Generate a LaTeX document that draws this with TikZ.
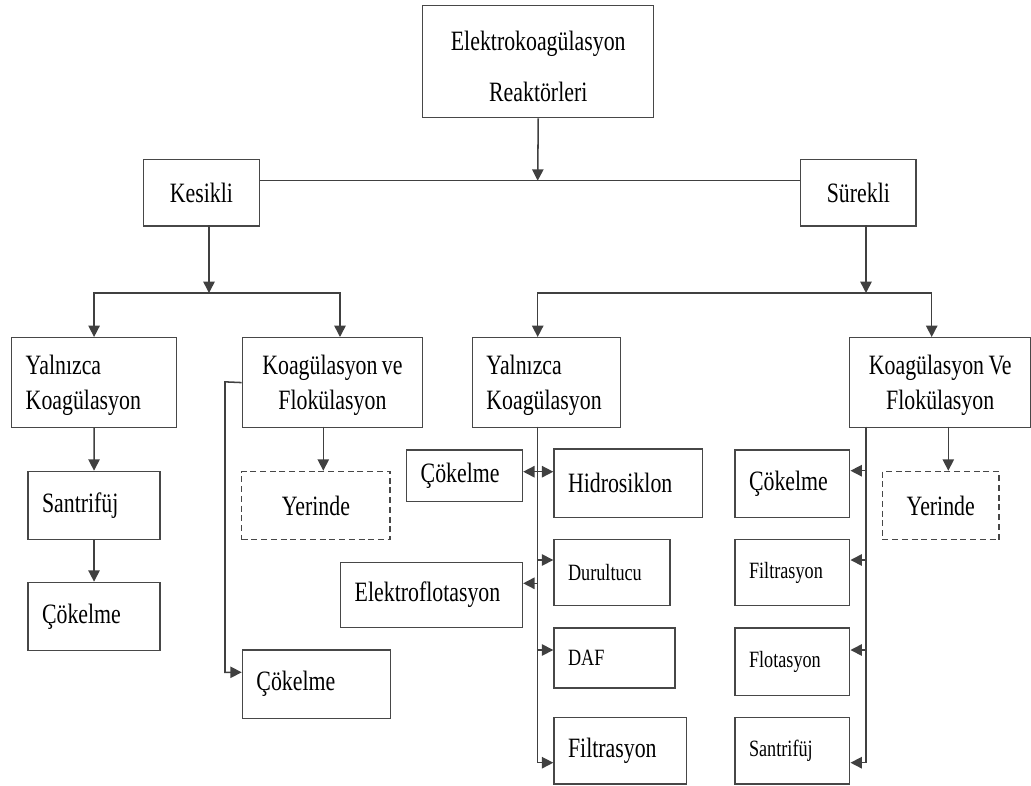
\documentclass[tikz,border=0pt]{standalone}
\usepackage{fontspec}
\setmainfont{Liberation Serif}[FakeStretch=0.78, WordSpace=0.8]
\usetikzlibrary{arrows.meta,calc}
\newcommand\fbig{\fontsize{21}{26.3}\selectfont}
\newcommand\fsmall{\fontsize{17.5}{21}\selectfont}
\newcommand\ftop{\fontsize{21}{38}\selectfont}
\newcommand\tlr{\rule{0pt}{18pt}}
\tikzset{
  box/.style={draw=black!72, line width=1.1pt, anchor=north west, inner xsep=10.5pt, inner ysep=0pt, font=\fbig, text=black},
  dbox/.style={dash pattern=on 4.5pt off 2.8pt},
  ln/.style={draw=black!75, line width=1.15pt},
  arr/.style={ln, -{Triangle[length=8.5pt,width=8.5pt]}},
}
\newcommand\bx[7]{%
  \pgfmathsetmacro\bxw{(#4-#2)*0.75}%
  \pgfmathsetmacro\bxh{(#5-#3)*0.75}%
  \pgfmathsetmacro\bxt{(#4-#2-28)*0.75}%
  \node[box, minimum width=\bxw pt, minimum height=\bxh pt, text width=\bxt pt, #6] (#1) at (#2,#3) {#7};}
\begin{document}
\begin{tikzpicture}[x=0.75pt, y=-0.75pt]
\useasboundingbox (0,0) rectangle (1031,785);
% boxes
\bx{top}{422}{5}{653}{117}{align=flush center, font=\ftop}{\rule{0pt}{22pt}Elektrokoagülasyon\\Reaktörleri}
\bx{kes}{142.7}{158.7}{258.7}{225.3}{align=flush center}{Kesikli}
\bx{sur}{800}{158.7}{915.3}{225.3}{align=flush center}{Sürekli}
\bx{yk1}{11}{337}{175.7}{426.7}{align=flush left}{\tlr Yalnızca\\Koagülasyon}
\bx{kf1}{241.7}{337}{421.7}{426.7}{align=flush center}{\tlr Koagülasyon ve\\Flokülasyon}
\bx{yk2}{471.7}{337}{620}{426.7}{align=flush left}{\tlr Yalnızca\\Koagülasyon}
\bx{kf2}{849}{337}{1030}{426.7}{align=flush center}{\tlr Koagülasyon Ve\\Flokülasyon}
\bx{san1}{27.3}{470.7}{159.3}{539}{align=flush left}{Santrifüj}
\bx{cok1}{27.3}{581.7}{159.3}{650}{align=flush left}{Çökelme}
\bx{yer1}{241}{470.7}{389.3}{539}{align=flush center, dbox}{Yerinde}
\bx{cok2}{241.7}{649.3}{390}{717.7}{align=flush left}{Çökelme}
\bx{cok3}{406}{449.3}{521.7}{501}{align=flush left}{Çökelme}
\bx{ele}{340}{561.7}{521.7}{626.7}{align=flush left}{Elektroflotasyon}
\bx{hid}{553.3}{448.3}{701.7}{516.7}{align=flush left}{Hidrosiklon}
\bx{dur}{553.3}{539}{669.3}{605}{align=flush left, font=\fsmall}{Durultucu}
\bx{daf}{553.3}{627.3}{674.3}{687.3}{align=flush left, font=\fsmall}{DAF}
\bx{fil1}{553.3}{716.7}{686}{783.3}{align=flush left}{Filtrasyon}
\bx{cok4}{734.3}{449.3}{849}{516.7}{align=flush left}{Çökelme}
\bx{fil2}{734.3}{539}{849}{605}{align=flush left, font=\fsmall}{Filtrasyon}
\bx{flo}{734.3}{627.3}{849}{695}{align=flush left, font=\fsmall}{Flotasyon}
\bx{san2}{734.3}{716.7}{849}{783.3}{align=flush left, font=\fsmall}{Santrifüj}
\bx{yer2}{881.7}{470.7}{998.3}{539}{align=flush center, dbox}{Yerinde}
% top level
\coordinate (hj) at (537.7,180.7);
\draw[arr] (top.south) -- (hj);
\draw[ln] (kes.east |- hj) -- (sur.west |- hj);
% Kesikli branch
\coordinate (kd) at (209,225.3);
\coordinate (kj) at (209,293);
\coordinate (kf1a) at (340,337);
\draw[arr] (kd) -- (kj);
\draw[arr] (kj) -| (yk1.north);
\draw[arr] (kj) -| (kf1a);
% Surekli branch
\coordinate (sd) at (866,225.3);
\coordinate (sj) at (866,293);
\coordinate (yk2a) at (537.7,337);
\coordinate (kf2a) at (931.7,337);
\draw[arr] (sd) -- (sj);
\draw[arr] (sj) -| (yk2a);
\draw[arr] (sj) -| (kf2a);
% left column
\draw[arr] (yk1.south) -- (san1.north);
\draw[arr] (san1.south) -- (cok1.north);
% Koag ve Flok (Kesikli)
\coordinate (kf1b) at (323.3,426.7);
\draw[arr] (kf1b) -- (kf1b |- yer1.north);
\coordinate (c2a) at (241.7,672.3);
\draw[arr] (kf1.west) -- (225,381.85) |- (c2a);
% mid trunk
\coordinate (mt) at (537.7,426.7);
\coordinate (mb) at (537.7,762.7);
\coordinate (m1) at (537.7,471.7);
\coordinate (m2) at (537.7,560);
\coordinate (m3) at (537.7,583.3);
\coordinate (m4) at (537.7,650);
\draw[arr] (mt) |- (fil1.west |- mb);
\draw[arr] (m1) -- (cok3.east |- m1);
\draw[arr] (m1) -- (hid.west |- m1);
\draw[arr] (m2) -- (dur.west |- m2);
\draw[arr] (m3) -- (ele.east |- m3);
\draw[arr] (m4) -- (daf.west |- m4);
% right trunk
\coordinate (rt) at (866,426.7);
\coordinate (rb) at (866,762.7);
\coordinate (r1) at (866,470.7);
\coordinate (r2) at (866,560);
\coordinate (r3) at (866,650);
\draw[arr] (rt) |- (san2.east |- rb);
\draw[arr] (r1) -- (cok4.east |- r1);
\draw[arr] (r2) -- (fil2.east |- r2);
\draw[arr] (r3) -- (flo.east |- r3);
\coordinate (kf2b) at (948.3,426.7);
\draw[arr] (kf2b) -- (kf2b |- yer2.north);
\end{tikzpicture}
\end{document}
